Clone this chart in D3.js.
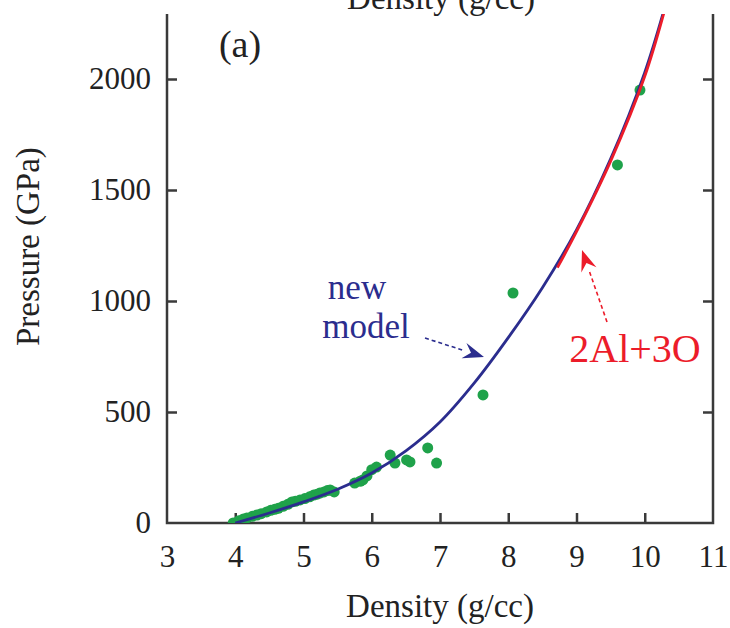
<!DOCTYPE html>
<html>
<head>
<meta charset="utf-8">
<script src="https://cdn.jsdelivr.net/npm/d3@7"></script>
<style>
  body { margin: 0; background: #fff; }
  svg { display: block; }
  text { font-family: "Liberation Serif", "DejaVu Serif", serif; }
</style>
</head>
<body>
<div id="chart"></div>
<script>
// density (g/cc) vs pressure (GPa)
const modelDensity = [4.0, 4.5, 5.0, 5.5, 6.0, 6.5, 7.0, 7.5, 8.0, 8.5, 9.0, 9.5, 10.0, 10.3];
const modelPressure = [0, 45, 95, 152, 225, 325, 455, 630, 835, 1060, 1320, 1640, 2030, 2330];

const atomDensity = [8.72, 9.0, 9.5, 10.0, 10.3];
const atomPressure = [1150, 1312, 1630, 2012, 2320];

const dataDensity = [3.97, 4.05, 4.12, 4.17, 4.25, 4.32, 4.38, 4.46, 4.52, 4.58, 4.63, 4.7, 4.77, 4.83,
  4.88, 4.95, 5.02, 5.09, 5.15, 5.2, 5.24, 5.3, 5.35, 5.39, 5.45, 5.75, 5.83, 5.87, 5.93, 6.0, 6.07,
  6.27, 6.34, 6.51, 6.56, 6.82, 6.95, 7.63, 8.07, 9.6, 9.93];
const dataPressure = [0, 10, 18, 22, 30, 36, 42, 50, 57, 62, 66, 75, 84, 95,
  98, 104, 110, 118, 126, 130, 135, 140, 146, 149, 140, 180, 188, 194, 212, 240, 252,
  306, 270, 284, 275, 338, 270, 577, 1036, 1613, 1950];

const xTicks = [3, 4, 5, 6, 7, 8, 9, 10, 11];
const yTicks = [0, 500, 1000, 1500, 2000];

const W = 730, H = 628;
const LEFT = 167, RIGHT = 713, BOTTOM = 523, TOP = 14;

const BLUE = "#2b2d8e", RED = "#ec1c2a", GREEN = "#1fa24a", AXIS = "#3a3a3a";

const svg = d3.select("#chart").append("svg")
  .attr("width", W).attr("height", H);

const x = d3.scaleLinear().domain([3, 11]).range([LEFT, RIGHT]);
const y = d3.scaleLinear().domain([0, 2000]).range([BOTTOM, 79]);

svg.append("defs").append("clipPath").attr("id", "clip")
  .append("rect").attr("x", LEFT).attr("y", TOP)
  .attr("width", RIGHT - LEFT).attr("height", BOTTOM - TOP);

// cut-off title from the panel above
svg.append("text").attr("x", 441).attr("y", 9)
  .attr("text-anchor", "middle").attr("font-size", 33).attr("fill", "#222")
  .text("Density (g/cc)");

// axes
const axB = svg.append("g").attr("transform", `translate(0,${BOTTOM})`)
  .call(d3.axisBottom(x).tickValues(xTicks).tickFormat(d3.format("d"))
    .tickSizeInner(-10).tickSizeOuter(0).tickPadding(22));
const axL = svg.append("g").attr("transform", `translate(${LEFT},0)`)
  .call(d3.axisLeft(y).tickValues(yTicks).tickFormat(d3.format("d"))
    .tickSizeInner(-10).tickSizeOuter(0).tickPadding(16));
const axR = svg.append("g").attr("transform", `translate(${RIGHT},0)`)
  .call(d3.axisRight(y).tickValues(yTicks).tickSizeInner(-10).tickSizeOuter(0).tickFormat(""));

[axB, axL, axR].forEach(g => {
  g.attr("font-family", null);
  g.select(".domain").remove();
  g.selectAll(".tick line").attr("stroke", AXIS).attr("stroke-width", 2.5);
  g.selectAll(".tick text").attr("font-size", 31).attr("fill", "#222");
});
axB.selectAll(".tick").filter(d => d === 3 || d === 11).select("line").remove();
axL.selectAll(".tick").filter(d => d === 0).select("line").remove();
axR.selectAll(".tick").filter(d => d === 0).select("line").remove();

// frame (open at the top)
svg.append("path")
  .attr("d", `M${LEFT},${TOP}V${BOTTOM}H${RIGHT}V${TOP}`)
  .attr("fill", "none").attr("stroke", AXIS).attr("stroke-width", 2.5);

// axis titles
svg.append("text").attr("x", 440).attr("y", 617)
  .attr("text-anchor", "middle").attr("font-size", 33).attr("fill", "#222")
  .text("Density (g/cc)");
svg.append("text")
  .attr("transform", `translate(39,${y(1245)}) rotate(-90)`)
  .attr("text-anchor", "middle").attr("font-size", 33).attr("fill", "#222")
  .text("Pressure (GPa)");

svg.append("text").attr("x", 240).attr("y", 57)
  .attr("text-anchor", "middle").attr("font-size", 38).attr("fill", "#222")
  .text("(a)");

const plot = svg.append("g").attr("clip-path", "url(#clip)");

const line = d3.line().curve(d3.curveCatmullRom.alpha(0.5));

// data points
plot.append("g").selectAll("circle")
  .data(dataDensity.map((d, i) => [d, dataPressure[i]]))
  .join("circle")
  .attr("cx", d => x(d[0])).attr("cy", d => y(d[1]))
  .attr("r", 5.5).attr("fill", GREEN);

plot.append("path")
  .attr("d", line(modelDensity.map((d, i) => [x(d), y(modelPressure[i])])))
  .attr("fill", "none").attr("stroke", BLUE).attr("stroke-width", 2.8);

plot.append("path")
  .attr("d", line(atomDensity.map((d, i) => [x(d), y(atomPressure[i])])))
  .attr("fill", "none").attr("stroke", RED).attr("stroke-width", 2.8);

// annotations
svg.append("text").attr("x", 357).attr("y", 299)
  .attr("text-anchor", "middle").attr("font-size", 35).attr("fill", BLUE).text("new");
svg.append("text").attr("x", 366).attr("y", 338)
  .attr("text-anchor", "middle").attr("font-size", 35).attr("fill", BLUE).text("model");
svg.append("text").attr("x", 635).attr("y", 362)
  .attr("text-anchor", "middle").attr("font-size", 40).attr("fill", RED).text("2Al+3O");

function arrow(x0, y0, x1, y1, color) {
  const ang = Math.atan2(y1 - y0, x1 - x0);
  const len = 21, half = 8;
  const bx = x1 - len * Math.cos(ang), by = y1 - len * Math.sin(ang);
  svg.append("line")
    .attr("x1", x0).attr("y1", y0).attr("x2", bx).attr("y2", by)
    .attr("stroke", color).attr("stroke-width", 1.6).attr("stroke-dasharray", "4,3");
  const px = -Math.sin(ang) * half, py = Math.cos(ang) * half;
  svg.append("path")
    .attr("d", `M${x1},${y1}L${bx + px},${by + py}L${bx + 0.35 * len * Math.cos(ang)},${by + 0.35 * len * Math.sin(ang)}L${bx - px},${by - py}Z`)
    .attr("fill", color);
}
arrow(425, 338, 484, 357, BLUE);
arrow(607, 322, 582, 250, RED);
</script>
</body>
</html>
